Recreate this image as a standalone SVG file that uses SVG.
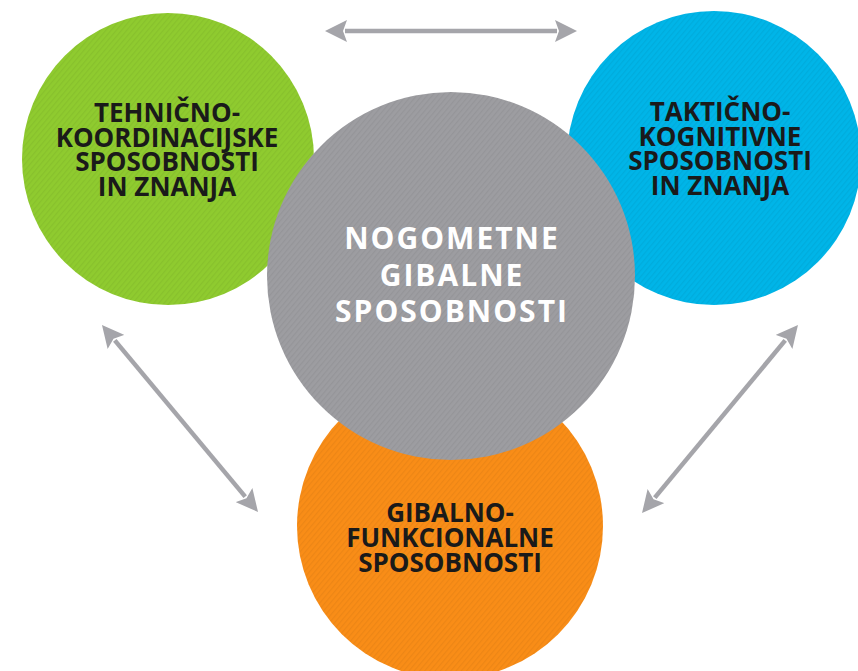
<svg xmlns="http://www.w3.org/2000/svg" width="858" height="671" viewBox="0 0 858 671">
<style>
.lbl{font-family:"Open Sans","Noto Sans","DejaVu Sans",sans-serif;font-weight:700;text-anchor:middle}
.dark{fill:#1a1a1a;font-size:26px}
.white{fill:#ffffff;font-size:30px;letter-spacing:2px}
.conn{stroke:#a5a5aa;stroke-width:4.5;fill:none;marker-start:url(#ah);marker-end:url(#ah)}
</style>
<defs>
<marker id="ah" markerUnits="userSpaceOnUse" markerWidth="22" markerHeight="22" viewBox="0 0 22 22" refX="2" refY="11" orient="auto-start-reverse">
<path d="M0,0 L22,11 L0,22 L4,11 Z" fill="#a5a5aa"/>
</marker>
<pattern id="hatch" patternUnits="userSpaceOnUse" width="4" height="4" patternTransform="rotate(-50)">
<rect width="4" height="1.2" fill="#000" fill-opacity="0.05"/>
</pattern>
</defs>
<rect width="858" height="671" fill="#ffffff"/>
<g id="green-node">
<circle cx="168" cy="159" r="146" fill="#8fcb2f"/>
<circle cx="168" cy="159" r="146" fill="url(#hatch)"/>
<text class="lbl dark" x="167" y="122">TEHNIČNO-</text>
<text class="lbl dark" x="167" y="146.5">KOORDINACIJSKE</text>
<text class="lbl dark" x="167" y="171">SPOSOBNOSTI</text>
<text class="lbl dark" x="167" y="195.5">IN ZNANJA</text>
</g>
<g id="blue-node">
<circle cx="714" cy="158" r="147" fill="#00b5e8"/>
<circle cx="714" cy="158" r="147" fill="url(#hatch)"/>
<text class="lbl dark" x="720" y="121">TAKTIČNO-</text>
<text class="lbl dark" x="720" y="145.5">KOGNITIVNE</text>
<text class="lbl dark" x="720" y="170">SPOSOBNOSTI</text>
<text class="lbl dark" x="720" y="195">IN ZNANJA</text>
</g>
<g id="orange-node">
<circle cx="450" cy="526" r="153" fill="#f98d17"/>
<circle cx="450" cy="526" r="153" fill="url(#hatch)"/>
<text class="lbl dark" x="450" y="522">GIBALNO-</text>
<text class="lbl dark" x="450" y="547">FUNKCIONALNE</text>
<text class="lbl dark" x="450" y="572">SPOSOBNOSTI</text>
</g>
<g id="gray-node">
<circle cx="451" cy="276" r="184" fill="#9d9da1"/>
<circle cx="451" cy="276" r="184" fill="url(#hatch)"/>
<text class="lbl white" x="452" y="249">NOGOMETNE</text>
<text class="lbl white" x="452" y="285.5">GIBALNE</text>
<text class="lbl white" x="452" y="322">SPOSOBNOSTI</text>
</g>
<g id="connectors">
<line class="conn" x1="345" y1="31" x2="557" y2="31"/>
<line class="conn" x1="114.8" y1="340.4" x2="245.2" y2="496.6"/>
<line class="conn" x1="785.2" y1="340.4" x2="654.8" y2="497.6"/>
</g>
</svg>
